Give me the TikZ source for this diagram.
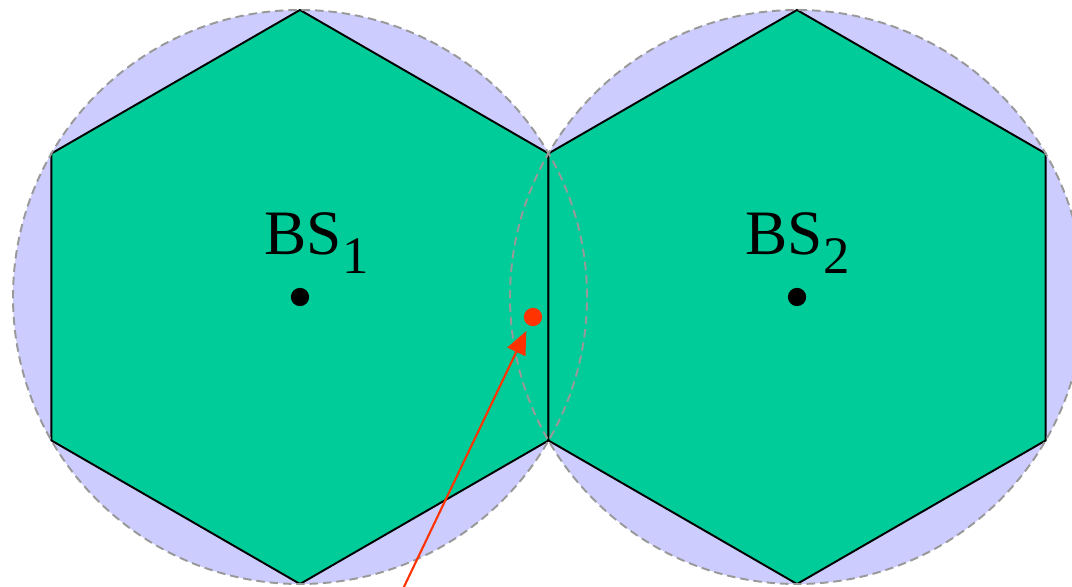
\documentclass[tikz,border=0pt]{standalone}
\usepackage{fontspec}
\setmainfont{Liberation Serif}
\usetikzlibrary{arrows.meta,positioning}

\definecolor{cellgreen}{HTML}{00CC99}
\definecolor{coverblue}{HTML}{CCCCFF}
\definecolor{rimgray}{HTML}{999999}
\definecolor{uered}{HTML}{FF3300}

\newcommand{\bsindex}[1]{\raisebox{-5.4pt}{\fontsize{15}{15}\selectfont #1}}

\begin{document}
\begin{tikzpicture}[
      coverage/.style={fill=coverblue},
      rim/.style={draw=rimgray, line width=0.55pt, dash pattern=on 2.4pt off 1.4pt},
      hexcell/.style={draw=black, fill=cellgreen, line width=0.55pt, line join=miter},
      bsdot/.style={circle, fill=black, inner sep=0pt, minimum size=5.2pt},
      bslabel/.style={anchor=base west, inner sep=0pt, font=\fontsize{18}{20}\selectfont},
      uedot/.style={circle, fill=uered, inner sep=0pt, minimum size=5.2pt},
      uearrow/.style={draw=uered, line width=0.6pt, -{Triangle[length=6.6pt,width=5.6pt]}, shorten >=1.6pt}
    ]
    \useasboundingbox (0,0) rectangle (10.72,5.87);
    \clip (0,0) rectangle (10.72,5.87);

    \node[bsdot] (bs1) at (3.00,2.90) {};
    \node[bsdot] (bs2) at (7.97,2.90) {};

    % coverage discs, hexagonal cells, then the dashed rims on top
    \foreach \bs in {bs1,bs2}{%
      \fill[coverage] (\bs.center) circle (2.87);
    }
    \foreach \bs in {bs1,bs2}{%
      \draw[hexcell] (\bs.center) ++(90:2.87) -- ++(-30:2.87) -- ++(-90:2.87)
        -- ++(-150:2.87) -- ++(150:2.87) -- ++(90:2.87) -- cycle;
    }
    \foreach \bs in {bs1,bs2}{%
      \draw[rim] (\bs.center) circle (2.87);
    }

    \node[bsdot] at (bs1) {};
    \node[bsdot] at (bs2) {};
    \node[bslabel] (lab1) at (2.64,3.32) {BS\bsindex{1}};
    \node[bslabel] (lab2) at (7.45,3.32) {BS\bsindex{2}};

    \node[uedot] (ue) at (5.33,2.70) {};
    \coordinate (foot) at (4.015,-0.05);
    \draw[uearrow] (foot) -- (ue);
  \end{tikzpicture}
\end{document}
